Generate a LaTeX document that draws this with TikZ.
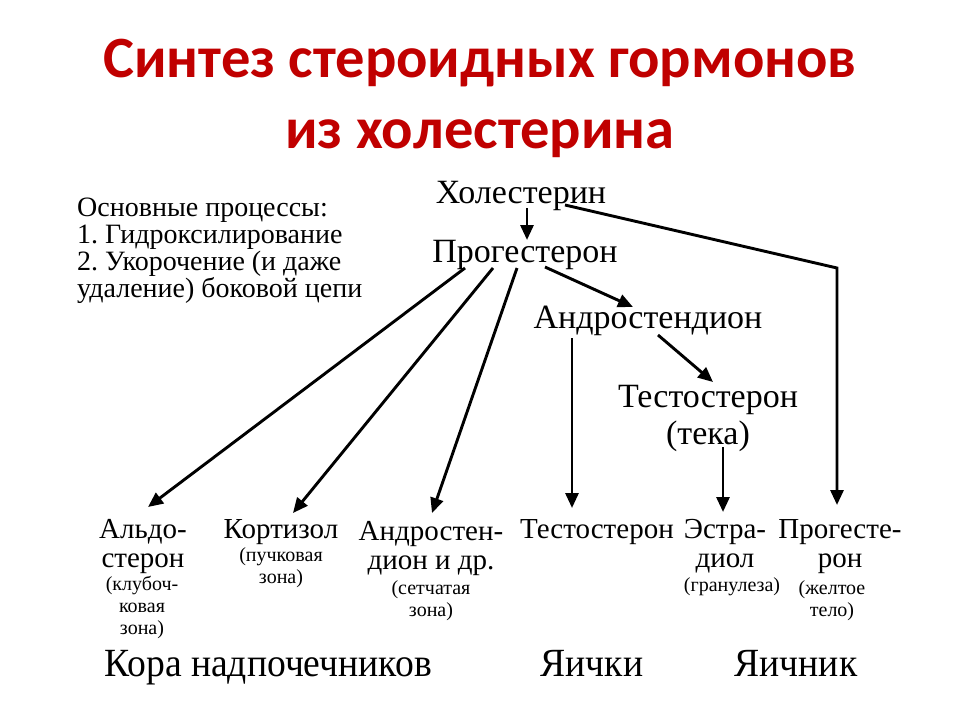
\documentclass[tikz,border=0pt]{standalone}
\usepackage{fontspec}
\setmainfont{Liberation Serif}
\newfontfamily\titlefont{Carlito}
\newfontfamily\narrowserif[FakeStretch=0.94]{Liberation Serif}
\usetikzlibrary{arrows.meta}
\definecolor{titlered}{RGB}{192,0,0}
\newcommand*{\sz}[2]{\fontsize{#1}{#2}\selectfont}
\frenchspacing

\begin{document}
\begin{tikzpicture}[x=1pt,y=-1pt,
  lbl/.style={anchor=base,inner sep=0pt,align=center},
  main/.style={lbl,font=\sz{34}{37}},
  prod/.style={lbl,font=\sz{29}{29}},
  zone/.style={lbl,font=\sz{20}{22}},
  organ/.style={lbl,font=\narrowserif\sz{40}{40}},
  arr/.style={line width=2.9pt,-{Triangle[length=15pt,width=13pt]}}]
\useasboundingbox (0,0) rectangle (960,720);
% Title
\node[lbl,font=\titlefont\bfseries\sz{58.5}{58.5},text=titlered] (title1) at (480,77) {Синтез стероидных гормонов};
\node[lbl,font=\titlefont\bfseries\sz{58.5}{58.5},text=titlered] (title2) at (480,148) {из холестерина};
% Note on the left (base = last line)
\node[anchor=base west,inner sep=0pt,align=left,font=\sz{28}{27}] (procs) at (77,297)
  {Основные процессы:\\1. Гидроксилирование\\2. Укорочение (и даже\\удаление) боковой цепи};
% Upper chain
\node[main] (chol) at (521,203) {Холестерин};
\node[main] (prog) at (525,262) {Прогестерон};
\node[main] (andr) at (648,328) {Андростендион};
\node[main] (testT) at (708,444) {Тестостерон\\(тека)};
% Products
\node[prod] (aldo) at (143,567) {Альдо-\\стерон};
\node[zone] (aldoz) at (142,634) {(клубоч-\\ковая\\зона)};
\node[prod] (cort) at (281,538) {Кортизол};
\node[zone] (cortz) at (281,583) {(пучковая\\зона)};
\node[prod] (andd) at (431,569) {Андростен-\\дион и др.};
\node[zone] (anddz) at (431,616) {(сетчатая\\зона)};
\node[prod] (testB) at (597,538) {Тестостерон};
\node[prod] (estr) at (725,567) {Эстра-\\диол};
\node[zone] (estrz) at (732,591) {(гранулеза)};
\node[prod] (progB) at (840,567) {Прогесте-\\рон};
\node[zone] (progz) at (832,616) {(желтое\\тело)};
% Organs
\node[organ] (cortex) at (268,676) {Кора надпочечников};
\node[organ] (testes) at (592,676) {Яички};
\node[organ] (ovary) at (796,676) {Яичник};
% Arrows
\draw[arr] ([xshift=6pt,yshift=-5pt]chol.base) -- ([xshift=2pt,yshift=22pt]prog.base);
\coordinate (bend) at (837,268);
\draw[arr] ([xshift=44pt,yshift=-2pt]chol.base) -- (bend) -- ([xshift=-3pt,yshift=62pt]progB.base);
\draw[arr] ([xshift=-60pt,yshift=-6pt]prog.base) -- ([xshift=5pt,yshift=60pt]aldo.base);
\draw[arr] ([xshift=-32pt,yshift=-6pt]prog.base) -- ([xshift=12pt,yshift=25pt]cort.base);
\draw[arr] ([xshift=-8pt,yshift=-6pt]prog.base) -- ([xshift=1pt,yshift=56pt]andd.base);
\draw[arr] ([xshift=20pt,yshift=-5pt]prog.base) -- ([xshift=-15pt,yshift=21pt]andr.base);
\draw[arr] ([xshift=10pt,yshift=-7pt]andr.base) -- ([xshift=5pt,yshift=62pt]testT.base);
\draw[arr] ([xshift=-76pt,yshift=-10pt]andr.base) -- ([xshift=-25pt,yshift=30pt]testB.base);
\draw[arr] ([xshift=15pt,yshift=-3pt]testT.base) -- ([xshift=-2pt,yshift=55pt]estr.base);
\end{tikzpicture}
\end{document}
